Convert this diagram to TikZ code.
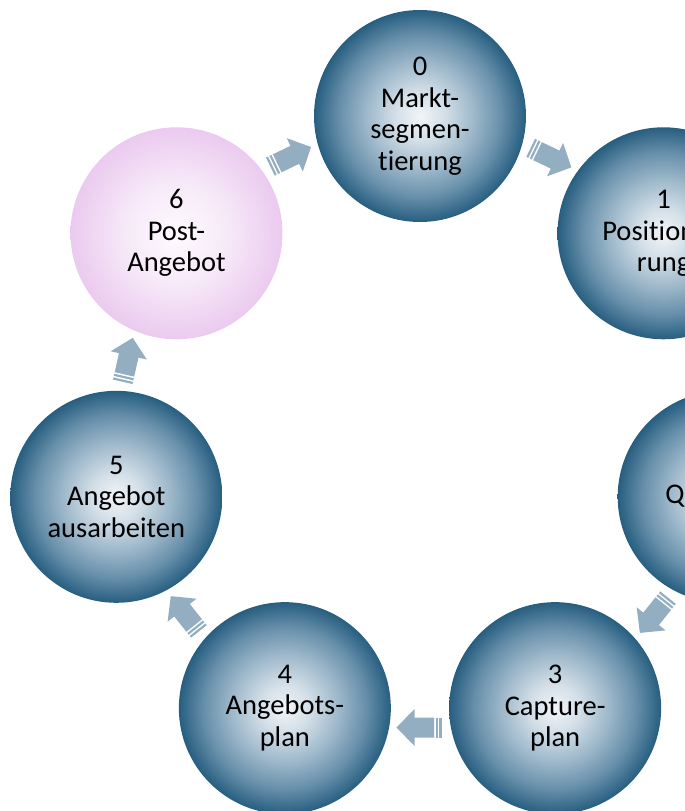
\documentclass[tikz,border=0pt]{standalone}
\usepackage{fontspec}
\setmainfont{Carlito}[Ligatures=NoCommon]
\usetikzlibrary{backgrounds}

% colours
\definecolor{ballc0}{HTML}{F2F5F8}
\definecolor{ballc1}{HTML}{D2DEE7}
\definecolor{ballc2}{HTML}{9FB9CB}
\definecolor{ballc3}{HTML}{6890AB}
\definecolor{ballc4}{HTML}{275E80}
\definecolor{pinkc0}{HTML}{FEFBFE}
\definecolor{pinkc1}{HTML}{F6E8F8}
\definecolor{pinkc2}{HTML}{EBCAEF}
\definecolor{arrowfill}{HTML}{93AEC1}

\pgfdeclareradialshading{sphereblue}{\pgfpoint{0bp}{0bp}}{%
  color(0bp)=(ballc0); color(6bp)=(ballc1); color(12.5bp)=(ballc2);
  color(19bp)=(ballc3); color(25bp)=(ballc4); color(50bp)=(ballc4)}
\pgfdeclareradialshading{spherepink}{\pgfpoint{0bp}{0bp}}{%
  color(0bp)=(pinkc0); color(12.5bp)=(pinkc1);
  color(25bp)=(pinkc2); color(50bp)=(pinkc2)}

\tikzset{
  phase/.style={circle, minimum size=212pt, inner sep=0pt, align=center,
    font=\fontsize{28.5}{31.5}\selectfont, text=black},
  bluephase/.style={phase, shading=sphereblue},
  pinkphase/.style={phase, shading=spherepink},
  pics/cyclearrow/.style={code={
    \fill[arrowfill] (-14,-10) -- (5.5,-10) -- (5.5,-18.5) -- (23.5,0)
      -- (5.5,18.5) -- (5.5,10) -- (-14,10) -- cycle;
    \fill[arrowfill] (-17.8,-10) rectangle (-15.6,10);
    \fill[arrowfill] (-21.6,-10) rectangle (-19.4,10);
  }}
}

\begin{document}
\begin{tikzpicture}[x=1pt, y=1pt]
  \clip (-420,-383.5) rectangle (265,427.5);
  \coordinate (ring) at (0,0);

  % the seven phases on a ring
  \node[bluephase] (c0) at (90:311.5) {0\\Markt-\\segmen-\\tierung};
  \node[bluephase] (c1) at (90-360/7:311.5) {1\\Positionie-\\rung};
  \node[bluephase] (c2) at (90-2*360/7:311.5) {2\\Qualifizie-\\rung};
  \node[bluephase] (c3) at (90-3*360/7:311.5) {3\\Capture-\\plan};
  \node[bluephase] (c4) at (90-4*360/7:311.5) {4\\Angebots-\\plan};
  \node[bluephase] (c5) at (90-5*360/7:311.5) {5\\Angebot\\ausarbeiten};
  \node[pinkphase] (c6) at (90-6*360/7:311.5) {6\\Post-\\Angebot};

  % clockwise block arrows between neighbouring phases
  \begin{scope}[on background layer]
    \foreach \k in {0,...,6} {
      \pgfmathsetmacro\a{90-(\k+0.5)*360/7}
      \path (ring) ++(\a:300) pic[rotate=\a-90] {cyclearrow};
    }
  \end{scope}
\end{tikzpicture}
\end{document}
